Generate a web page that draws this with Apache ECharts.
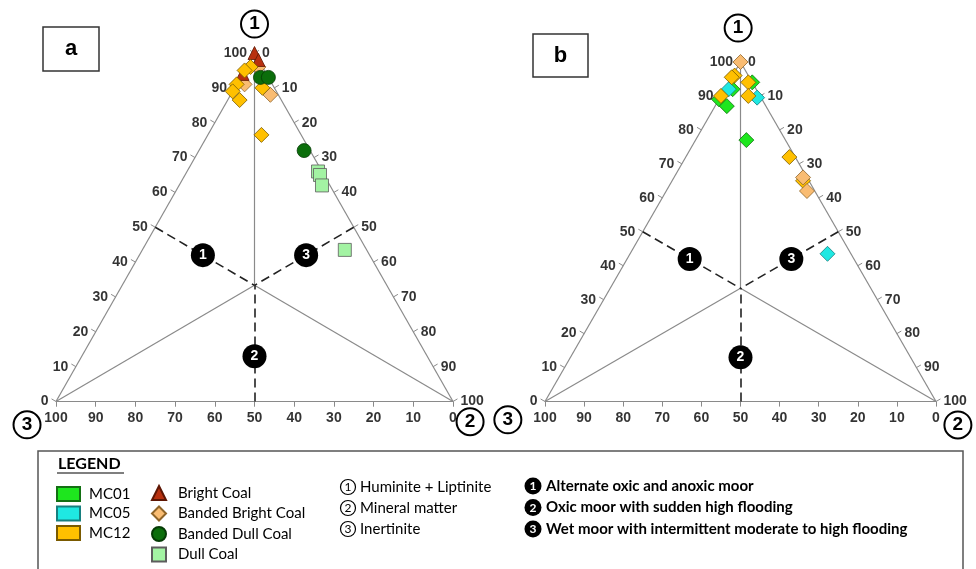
<!DOCTYPE html>
<html>
<head>
<meta charset="utf-8">
<script src="https://cdn.jsdelivr.net/npm/echarts@6/dist/echarts.min.js"></script>
<style>
  html, body { margin: 0; padding: 0; background: #fff; }
  #main { width: 976px; height: 569px; }
</style>
</head>
<body>
<div id="main"></div>
<script>
// ternary samples: [① Huminite + Liptinite, ② Mineral matter, ③ Inertinite] (%)
// plot a
const brightCoalA = [[100, 0, 0], [98, 2, 0], [94, 0, 6]];
const mc12A = [[96, 1, 3], [95, 0, 5], [91, 0, 9], [89, 0, 11], [86.5, 3, 10.5], [90, 7, 3], [76.5, 13.5, 10]];
const bandedBrightA = [[91, 2, 7], [96, 3, 1], [88, 10, 2]];
const bandedDullA = [[93, 5, 2], [93, 7, 0], [72, 26.5, 1.5]];
const dullCoalA = [[66, 33, 1], [65, 34, 1], [62, 36, 2], [43.5, 51, 5.5]];
// plot b
const mc01B = [[94, 6, 0], [92, 2, 6], [89, 0, 11], [87, 3, 10], [77, 13, 10]];
const mc05B = [[92, 1, 7], [89.5, 9.5, 1], [43.5, 50.5, 6]];
const bandedBrightB = [[100, 0, 0], [66, 33, 1], [62, 36, 2]];
const mc12B = [[96, 0.5, 3.5], [95.5, 0, 4.5], [94, 5, 1], [90, 0, 10], [90, 7, 3], [72, 26.5, 1.5], [65, 33.5, 1.5]];

const tickValues = [0, 10, 20, 30, 40, 50, 60, 70, 80, 90, 100];
// interpretation zones (black badges) in ternary position
const zoneBadges = [
  { name: "1", pos: [42, 16, 42] },
  { name: "2", pos: [13, 43.5, 43.5] },
  { name: "3", pos: [42, 42, 16] },
];
const legendTypes = ["MC01", "MC05", "MC12"];
const legendCoal = ["Bright Coal", "Banded Bright Coal", "Banded Dull Coal", "Dull Coal"];
const legendEnds = ["Huminite + Liptinite", "Mineral matter", "Inertinite"];
const legendZones = [
  "Alternate oxic and anoxic moor",
  "Oxic moor with sudden high flooding",
  "Wet moor with intermittent moderate to high flooding",
];

// ternary -> cartesian: x = ② + ①/2, y = ①  (both 0..100)
function tp(p) {
  return [p[1] + p[0] / 2, p[0]];
}

const NUM_FONT = "Liberation Sans, Arial, sans-serif";
const TXT_FONT = "Lato, sans-serif";

// where the corner names sit, in axis units (outside the triangle)
const cornerPos = [
  [[50, 108.3], [-7.3, -6.7], [104.3, -5.8]],
  [[49.4, 110], [-9.5, -5.4], [105.6, -6.9]],
];

function frameSeries(k) {
  const c = [100 / 3, 100 / 3, 100 / 3];
  const ax = { xAxisIndex: k, yAxisIndex: k, coordinateSystem: "cartesian2d", silent: true, clip: false };
  const ticks = [];
  tickValues.forEach((v) => {
    ticks.push({ coords: [tp([v, 0, 100 - v]), tp([v + 0.75, -1.5, 100 - v + 0.75])] });
    ticks.push({ coords: [tp([100 - v, v, 0]), tp([100 - v + 0.75, v + 0.75, -1.5])] });
    ticks.push({ coords: [tp([0, 100 - v, v]), tp([-1.5, 100 - v + 0.75, v + 0.75])] });
  });
  const lbl = (pos, dist) => ({
    show: true, position: pos, distance: dist, formatter: "{b}",
    color: "#000", fontFamily: NUM_FONT, fontWeight: "bold", fontSize: 14,
  });
  const hidden = { color: "rgba(0,0,0,0)" };
  return [
    Object.assign({}, ax, {
      type: "lines", z: 1,
      lineStyle: { color: "#8a8a8a", width: 1.2, opacity: 1 },
      data: [
        { coords: [tp([0, 0, 100]), tp([0, 100, 0])] },
        { coords: [tp([0, 100, 0]), tp([100, 0, 0])] },
        { coords: [tp([100, 0, 0]), tp([0, 0, 100])] },
        { coords: [tp([100, 0, 0]), tp(c)] },
        { coords: [tp([0, 0, 100]), tp(c)] },
        { coords: [tp([0, 100, 0]), tp(c)] },
      ],
    }),
    Object.assign({}, ax, {
      type: "lines", z: 1,
      lineStyle: { color: "#8a8a8a", width: 1, opacity: 1 },
      data: ticks,
    }),
    Object.assign({}, ax, {
      type: "lines", z: 2,
      lineStyle: { color: "#222", width: 1.6, type: [9, 5], opacity: 1 },
      data: [
        { coords: [tp([50, 0, 50]), tp(c)] },
        { coords: [tp([50, 50, 0]), tp(c)] },
        { coords: [tp([0, 50, 50]), tp(c)] },
      ],
    }),
    {
      type: "scatter", xAxisIndex: k, yAxisIndex: k, silent: true, clip: false,
      symbolSize: 1, itemStyle: hidden, label: lbl("left", 7),
      data: tickValues.map((v) => ({ name: String(v), value: tp([v, 0, 100 - v]) })),
    },
    {
      type: "scatter", xAxisIndex: k, yAxisIndex: k, silent: true, clip: false,
      symbolSize: 1, itemStyle: hidden, label: lbl("right", 7),
      data: tickValues.map((v) => ({ name: String(v), value: tp([100 - v, v, 0]) })),
    },
    {
      type: "scatter", xAxisIndex: k, yAxisIndex: k, silent: true, clip: false,
      symbolSize: 1, itemStyle: hidden, label: lbl("bottom", 9),
      data: tickValues.map((v) => ({ name: String(v), value: tp([0, 100 - v, v]) })),
    },
    {
      type: "scatter", xAxisIndex: k, yAxisIndex: k, silent: true, clip: false, z: 5,
      symbol: "circle", symbolSize: 24,
      itemStyle: { color: "#000", opacity: 1 },
      label: {
        show: true, position: "inside", formatter: "{b}",
        color: "#fff", fontWeight: "bold", fontSize: 14, fontFamily: NUM_FONT,
      },
      data: zoneBadges.map((d) => ({ name: d.name, value: tp(d.pos) })),
    },
    {
      type: "scatter", xAxisIndex: k, yAxisIndex: k, silent: true, clip: false, z: 5,
      symbol: "circle", symbolSize: 27,
      itemStyle: { color: "#fff", borderColor: "#000", borderWidth: 2, opacity: 1 },
      label: {
        show: true, position: "inside", formatter: "{b}",
        color: "#000", fontWeight: "bold", fontSize: 19, fontFamily: NUM_FONT,
      },
      data: ["1", "3", "2"].map((n, i) => ({ name: n, value: cornerPos[k][i] })),
    },
  ];
}

const styles = {
  "Bright Coal": { symbol: "triangle", size: 13, color: "#B8300F", border: "#5e1604" },
  "Banded Bright Coal": { symbol: "diamond", size: 15, color: "#F9BC72", border: "#8f6428" },
  "Banded Dull Coal": { symbol: "circle", size: 14, color: "#0B6E0B", border: "#053b05" },
  "Dull Coal": { symbol: "rect", size: 13, color: "#A3F3A3", border: "#5d5d5d" },
  MC01: { symbol: "diamond", size: 15, color: "#1EE61E", border: "#137013" },
  MC05: { symbol: "diamond", size: 15, color: "#1FE8E2", border: "#177f7f" },
  MC12: { symbol: "diamond", size: 15, color: "#FFC000", border: "#7a5a00" },
};

function pointSeries(name, k, arr) {
  const s = styles[name];
  return {
    name: name, type: "scatter", xAxisIndex: k, yAxisIndex: k, clip: false, z: 4,
    symbol: s.symbol, symbolSize: s.size,
    itemStyle: { color: s.color, borderColor: s.border, borderWidth: 0.8, opacity: 1 },
    data: arr.map(tp),
  };
}

const chart = echarts.init(document.getElementById("main"), null, { renderer: "canvas" });

const axisOff = (k) => ({ gridIndex: k, type: "value", min: 0, max: 100, show: false });

const graphics = [
  { type: "rect", shape: { x: 43, y: 27, width: 56, height: 44 }, style: { fill: "#fff", stroke: "#333", lineWidth: 1.5 } },
  { type: "text", x: 71, y: 49, style: { text: "a", font: "bold 22px " + NUM_FONT, fill: "#000", align: "center", verticalAlign: "middle" } },
  { type: "rect", shape: { x: 533, y: 34, width: 55, height: 43 }, style: { fill: "#fff", stroke: "#333", lineWidth: 1.5 } },
  { type: "text", x: 560.5, y: 56, style: { text: "b", font: "bold 22px " + NUM_FONT, fill: "#000", align: "center", verticalAlign: "middle" } },
  { type: "rect", z: -1, shape: { x: 38, y: 451, width: 925, height: 140 }, style: { fill: "#fff", stroke: "#555", lineWidth: 1.5 } },
  { type: "text", x: 58, y: 464, style: { text: "LEGEND", font: "bold 16px " + TXT_FONT, fill: "#000", verticalAlign: "middle" } },
  { type: "line", shape: { x1: 57, y1: 473, x2: 124, y2: 473 }, style: { stroke: "#000", lineWidth: 1.2 } },
];
legendEnds.forEach((t, i) => {
  const y = 487 + i * 21;
  graphics.push({ type: "circle", shape: { cx: 348, cy: y, r: 7.5 }, style: { fill: "#fff", stroke: "#000", lineWidth: 1.2 } });
  graphics.push({ type: "text", x: 348, y: y + 0.5, style: { text: String(i + 1), font: "12px " + TXT_FONT, fill: "#000", align: "center", verticalAlign: "middle" } });
  graphics.push({ type: "text", x: 360, y: y, style: { text: t, font: "15px " + TXT_FONT, fill: "#000", verticalAlign: "middle" } });
});
legendZones.forEach((t, i) => {
  const y = 486 + i * 21.5;
  graphics.push({ type: "circle", shape: { cx: 533, cy: y, r: 8.5 }, style: { fill: "#000" } });
  graphics.push({ type: "text", x: 533, y: y + 0.5, style: { text: String(i + 1), font: "bold 12px " + TXT_FONT, fill: "#fff", align: "center", verticalAlign: "middle" } });
  graphics.push({ type: "text", x: 546, y: y, style: { text: t, font: "bold 15px " + TXT_FONT, fill: "#000", verticalAlign: "middle" } });
});

const legendText = (pad) => ({ fontFamily: TXT_FONT, fontSize: 15, color: "#000", lineHeight: 14, padding: [0, 0, 0, pad] });

const option = {
  animation: false,
  backgroundColor: "#fff",
  grid: [
    { left: 56, top: 53, width: 397, height: 348.5 },
    { left: 545, top: 62, width: 391, height: 339.5 },
  ],
  xAxis: [axisOff(0), axisOff(1)],
  yAxis: [axisOff(0), axisOff(1)],
  legend: [
    {
      orient: "vertical", left: 56, top: 486, padding: 0, selectedMode: false,
      itemWidth: 23, itemHeight: 14, itemGap: 3.5,
      textStyle: legendText(4),
      data: legendTypes.map((n) => ({ name: n, icon: "rect" })),
    },
    {
      orient: "vertical", left: 151, top: 485, padding: 0, selectedMode: false,
      itemWidth: 14, itemHeight: 14, itemGap: 4.5,
      textStyle: legendText(7),
      data: legendCoal,
    },
  ],
  graphic: graphics,
  series: [].concat(
    frameSeries(0),
    frameSeries(1),
    [
      pointSeries("Dull Coal", 0, dullCoalA),
      pointSeries("Banded Bright Coal", 0, bandedBrightA),
      pointSeries("Bright Coal", 0, brightCoalA),
      pointSeries("MC12", 0, mc12A),
      pointSeries("Banded Dull Coal", 0, bandedDullA),
      pointSeries("MC01", 1, mc01B),
      pointSeries("MC05", 1, mc05B),
      pointSeries("MC12", 1, mc12B),
      pointSeries("Banded Bright Coal", 1, bandedBrightB),
    ]
  ),
};
option && chart.setOption(option);
</script>
</body>
</html>
